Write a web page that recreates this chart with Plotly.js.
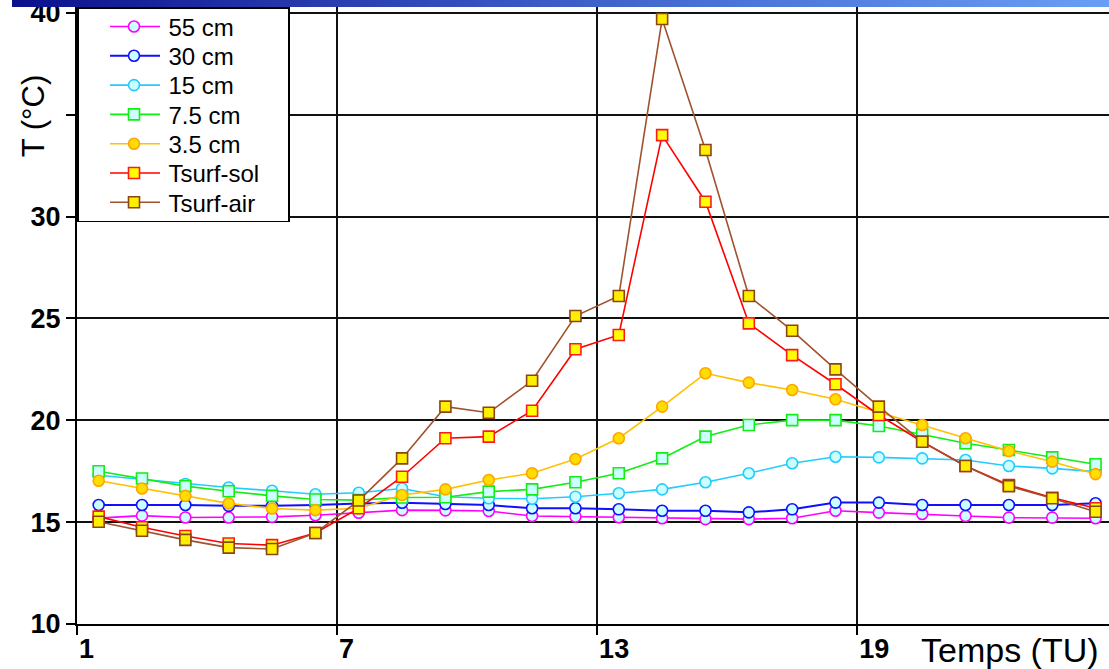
<!DOCTYPE html>
<html>
<head>
<meta charset="utf-8">
<script src="https://cdn.plot.ly/plotly-3.0.1.min.js"></script>
<style>
  html, body { margin: 0; padding: 0; background: #ffffff; }
  #wrap { position: relative; width: 1109px; height: 669px; overflow: hidden; }
  #chart { position: absolute; left: 0; top: 0; width: 1109px; height: 669px; }
  #bar { position: absolute; left: 12px; top: 0; width: 1097px; height: 7px; z-index: 5;
         background: linear-gradient(to right, #0b108c 0%, #2a3fb0 30%, #4a73d8 65%, #6a9ef4 100%); }
</style>
</head>
<body>
<div id="wrap">
  <div id="chart"></div>
  <div id="bar"></div>
</div>
<script>
// Hours (TU)
const hours = [1.5, 2.5, 3.5, 4.5, 5.5, 6.5, 7.5, 8.5, 9.5, 10.5, 11.5, 12.5,
               13.5, 14.5, 15.5, 16.5, 17.5, 18.5, 19.5, 20.5, 21.5, 22.5, 23.5, 24.5];

const t55cm = [15.20, 15.32, 15.23, 15.23, 15.26, 15.34, 15.46, 15.59, 15.58, 15.55, 15.30, 15.27,
               15.24, 15.19, 15.15, 15.15, 15.19, 15.56, 15.47, 15.40, 15.30, 15.22, 15.22, 15.19];
const t30cm = [15.84, 15.84, 15.84, 15.80, 15.80, 15.84, 15.92, 15.95, 15.89, 15.84, 15.68, 15.68,
               15.63, 15.56, 15.56, 15.48, 15.63, 15.96, 15.96, 15.84, 15.84, 15.84, 15.84, 15.93];
const t15cm = [17.30, 17.10, 16.87, 16.70, 16.54, 16.37, 16.44, 16.65, 16.25, 16.17, 16.15, 16.25,
               16.42, 16.61, 16.96, 17.40, 17.89, 18.21, 18.18, 18.13, 18.05, 17.76, 17.64, 17.48];
const t7_5cm = [17.50, 17.14, 16.77, 16.52, 16.29, 16.11, 16.08, 16.21, 16.22, 16.50, 16.61, 16.96,
                17.40, 18.13, 19.20, 19.77, 20.01, 20.01, 19.72, 19.30, 18.87, 18.54, 18.18, 17.84];
const t3_5cm = [17.03, 16.65, 16.29, 15.92, 15.67, 15.59, 15.68, 16.33, 16.61, 17.07, 17.40, 18.10,
                19.12, 20.67, 22.31, 21.85, 21.49, 21.03, 20.40, 19.77, 19.12, 18.49, 17.97, 17.36];
const tSurfSol = [15.27, 14.75, 14.32, 13.95, 13.87, 14.47, 15.68, 17.23, 19.12, 19.20, 20.47, 23.49,
                  24.19, 34.00, 30.73, 24.76, 23.20, 21.77, 20.26, 18.95, 17.76, 16.82, 16.20, 15.68];
const tSurfAir = [15.02, 14.58, 14.13, 13.75, 13.68, 14.47, 16.06, 18.13, 20.67, 20.37, 21.94, 25.12,
                  26.10, 39.70, 33.27, 26.10, 24.40, 22.50, 20.67, 18.95, 17.76, 16.77, 16.17, 15.51];

const seriesNames = ["55 cm", "30 cm", "15 cm", "7.5 cm", "3.5 cm", "Tsurf-sol", "Tsurf-air"];
const xTickVals = [1, 7, 13, 19];
const xTickLabels = ["1", "7", "13", "19"];
const yTickVals = [10, 15, 20, 25, 30, 35, 40];
const yTickLabels = ["10", "15", "20", "25", "30", "", "40"];
const xTitle = "Temps (TU)";
const yTitle = "T (°C)";

const FONT = "Arial, 'Liberation Sans', sans-serif";

function mk(name, y, lineColor, lineWidth, symbol, fill, border) {
  return {
    type: "scatter", mode: "lines+markers", name: name, x: hours, y: y,
    line: { color: lineColor, width: lineWidth },
    marker: { symbol: symbol, size: 11, color: fill, line: { color: border, width: 1.6 } }
  };
}

const traces = [
  mk(seriesNames[0], t55cm, "#ff00ff", 1.6, "circle", "#ccffff", "#ff00ff"),
  mk(seriesNames[1], t30cm, "#1010ff", 2, "circle", "#ccffff", "#1010ff"),
  mk(seriesNames[2], t15cm, "#22ccff", 1.6, "circle", "#ccffff", "#22ccff"),
  mk(seriesNames[3], t7_5cm, "#11ee11", 1.6, "square", "#ccffff", "#11ee11"),
  mk(seriesNames[4], t3_5cm, "#ffc000", 1.6, "circle", "#ffdd00", "#ffa500"),
  mk(seriesNames[5], tSurfSol, "#ff0000", 1.6, "square", "#ffff00", "#ff1a1a"),
  mk(seriesNames[6], tSurfAir, "#a0522d", 1.6, "square", "#ffee00", "#8b4513")
];

const layout = {
  width: 1109, height: 669,
  margin: { l: 77, r: 0, t: 7, b: 45 },
  paper_bgcolor: "#ffffff", plot_bgcolor: "#ffffff",
  font: { family: FONT, color: "#000000" },
  showlegend: true,
  legend: {
    x: 0, y: 1, xanchor: "left", yanchor: "top",
    bgcolor: "#ffffff", bordercolor: "#000000", borderwidth: 1.5,
    font: { family: FONT, size: 24, color: "#000000" },
    itemwidth: 80, tracegroupgap: 0
  },
  xaxis: {
    range: [1, 24.81], tickmode: "array", tickvals: xTickVals, ticktext: xTickLabels,
    ticks: "outside", ticklen: 9, tickwidth: 2, tickcolor: "#000000",
    ticklabelposition: "outside right", ticklabeloverflow: "allow",
    tickfont: { family: FONT, size: 27, color: "#000000", weight: "bold" },
    showgrid: true, gridcolor: "#111111", gridwidth: 2,
    showline: true, linecolor: "#000000", linewidth: 2,
    zeroline: false, fixedrange: true
  },
  yaxis: {
    range: [10, 40.29], tickmode: "array", tickvals: yTickVals, ticktext: yTickLabels,
    ticks: "outside", ticklen: 9, tickwidth: 2, tickcolor: "#000000",
    ticklabeloverflow: "allow",
    tickfont: { family: FONT, size: 27, color: "#000000", weight: "bold" },
    showgrid: true, gridcolor: "#111111", gridwidth: 2,
    showline: true, linecolor: "#000000", linewidth: 2,
    zeroline: false, fixedrange: true
  },
  annotations: [
    { text: xTitle, xref: "paper", yref: "paper", x: 1, y: 0, xanchor: "right", yanchor: "top",
      xshift: -8, yshift: -5, showarrow: false,
      font: { family: FONT, size: 34, color: "#000000" } },
    { text: yTitle, xref: "paper", yref: "paper", x: 0, y: 0.823, xanchor: "center", yanchor: "middle",
      xshift: -44, textangle: -90, showarrow: false,
      font: { family: FONT, size: 31, color: "#000000" } }
  ]
};

function tr(el) {
  const m = /translate\(\s*([-\d.e]+)[ ,]+([-\d.e]+)\s*\)/.exec(el.getAttribute("transform") || "");
  return m ? [parseFloat(m[1]), parseFloat(m[2])] : [0, 0];
}

Plotly.newPlot("chart", traces, layout, { displayModeBar: false, staticPlot: true }).then(function (gd) {
  // Legend layout tweaks to match the reference box (row spacing, symbol placement, box size)
  const leg = gd.querySelector(".legend");
  if (!leg) return;
  const items = leg.querySelectorAll(".traces");
  const step = 29.3, first = 19.5;
  const lineLeft = 110, lineLen = 50, markCx = 134;
  items.forEach(function (t, i) {
    const p = tr(t);
    t.setAttribute("transform", "translate(" + p[0] + "," + (first + i * step) + ")");
    try {
      t.querySelectorAll(".legendlines path").forEach(function (ln) {
        const d = ln.getAttribute("d") || "";
        const m = /M\s*([-\d.e]+)[ ,]+([-\d.e]+)/.exec(d);
        if (!m) return;
        const r = ln.getBoundingClientRect();
        const nx = parseFloat(m[1]) + (lineLeft - r.left);
        ln.setAttribute("d", "M" + nx + "," + m[2] + "h" + lineLen);
      });
      t.querySelectorAll(".legendpoints path.scatterpts").forEach(function (pt) {
        const r = pt.getBoundingClientRect();
        const dx = markCx - (r.left + r.width / 2);
        const q = tr(pt);
        pt.setAttribute("transform", "translate(" + (q[0] + dx) + "," + q[1] + ")");
      });
    } catch (e) {}
  });
  const h = first + (items.length - 1) * step + 18.5;
  const w = 211;
  leg.querySelectorAll("rect.bg").forEach(function (r) { r.setAttribute("height", h); r.setAttribute("width", w); });
  document.querySelectorAll("clipPath[id*='legend'] rect").forEach(function (r) {
    r.setAttribute("height", h); r.setAttribute("width", w);
  });
});
</script>
</body>
</html>
